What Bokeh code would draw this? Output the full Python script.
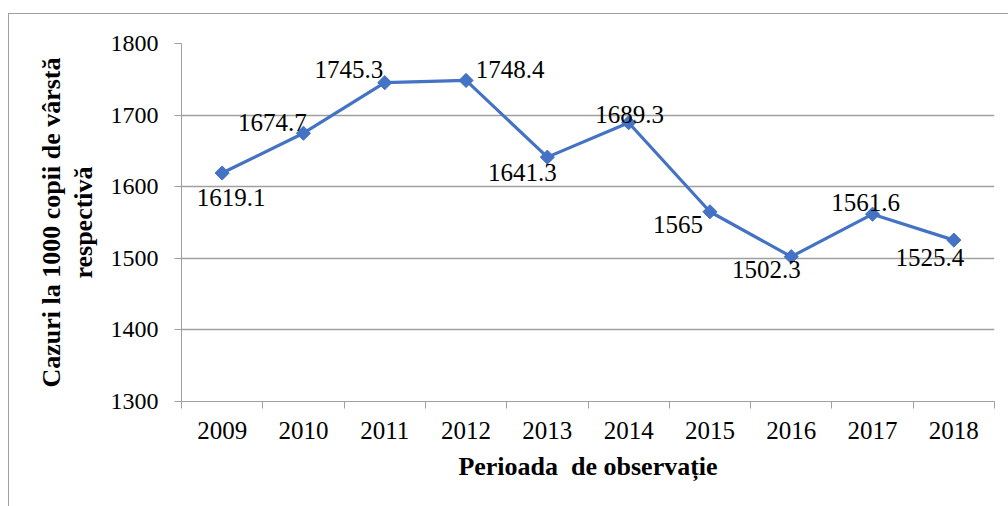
import math
from bokeh.plotting import figure
from bokeh.layouts import column, row
from bokeh.models import ColumnDataSource, FixedTicker, Range1d, Spacer
from bokeh.core.properties import value
from bokeh.embed import file_html
from bokeh.resources import INLINE

years = ["2009", "2010", "2011", "2012", "2013", "2014", "2015", "2016", "2017", "2018"]
cases = [1619.1, 1674.7, 1745.3, 1748.4, 1641.3, 1689.3, 1565, 1502.3, 1561.6, 1525.4]
labels = ["1619.1", "1674.7", "1745.3", "1748.4", "1641.3", "1689.3", "1565", "1502.3", "1561.6", "1525.4"]
y_ticks = [1300, 1400, 1500, 1600, 1700, 1800]

# label offsets in screen pixels (positioning only)
label_dx = [9, -31, -36, 44, -25, 1, -32, -25, -7, -24]
label_dy = [24, -11, -13, -11, 15, -8, 13, 13, -12, 17]

xs = [i + 0.5 for i in range(len(years))]
src = ColumnDataSource(dict(x=xs, y=cases, t=labels, dx=label_dx, dy=label_dy))

FONT = "Liberation Serif"
BLUE = "#4472C4"
GRID = "#a0a0a0"

p = figure(width=1000, height=493, output_backend="svg", toolbar_location=None,
           x_range=Range1d(0, len(years)), y_range=Range1d(1300, 1800),
           min_border_left=172, min_border_right=15, min_border_top=29, min_border_bottom=106)
p.styles = {"border-top": "1px solid #a0a0a0", "border-left": "1px solid #a0a0a0"}
p.outline_line_color = None
p.background_fill_color = "white"
p.border_fill_color = "white"

p.line("x", "y", source=src, line_color=BLUE, line_width=3.2)
p.scatter("x", "y", source=src, marker="square", size=10, angle=math.pi / 4,
          fill_color=BLUE, line_color=BLUE)
p.text("x", "y", text="t", source=src, x_offset="dx", y_offset="dy",
       text_font=value(FONT), text_font_size="25px", text_color="black",
       text_align="center", text_baseline="middle")

# x axis
xa = p.xaxis[0]
xa.ticker = FixedTicker(ticks=xs, minor_ticks=list(range(len(years) + 1)))
xa.major_label_overrides = {x: y for x, y in zip(xs, years)}
xa.major_tick_out = 0
xa.major_tick_in = 0
xa.minor_tick_out = 7
xa.minor_tick_in = 0
xa.minor_tick_line_color = GRID
xa.axis_line_color = GRID
xa.major_label_text_font = FONT
xa.major_label_text_font_size = "25px"
xa.major_label_text_color = "black"
xa.major_label_standoff = 13
xa.axis_label = "Perioada\u00a0 de observație"
xa.axis_label_text_font = FONT
xa.axis_label_text_font_size = "26px"
xa.axis_label_text_font_style = "bold"
xa.axis_label_text_color = "black"
xa.axis_label_standoff = 10

# y axis
ya = p.yaxis[0]
ya.ticker = FixedTicker(ticks=y_ticks)
ya.minor_tick_line_color = None
ya.major_tick_out = 7
ya.major_tick_in = 0
ya.major_tick_line_color = GRID
ya.axis_line_color = GRID
ya.major_label_text_font = FONT
ya.major_label_text_font_size = "24px"
ya.major_label_text_color = "black"
ya.major_label_standoff = 16
ya.axis_label = "Cazuri la 1000 copii de vârstă\nrespectivă"
ya.axis_label_text_font = FONT
ya.axis_label_text_font_size = "26px"
ya.axis_label_text_font_style = "bold"
ya.axis_label_text_color = "black"
ya.axis_label_text_line_height = 1.08
ya.axis_label_standoff = 10

p.xgrid.visible = False
p.ygrid.ticker = FixedTicker(ticks=y_ticks)
p.ygrid.grid_line_color = GRID
p.ygrid.grid_line_width = 1.3

layout = row(Spacer(width=8, height=506),
             column(Spacer(width=1000, height=13), p, spacing=0),
             spacing=0)
open("out.html", "w").write(file_html(layout, INLINE))
